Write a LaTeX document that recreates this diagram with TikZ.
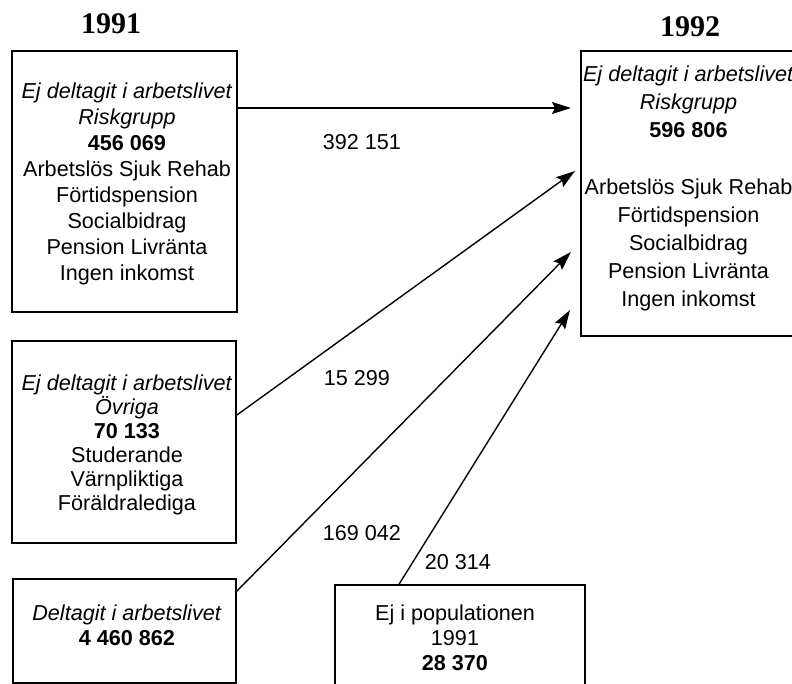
\documentclass[tikz,border=0pt]{standalone}
\usepackage{fontspec}
\setmainfont{Liberation Sans}
\newfontfamily\headfont{Liberation Serif}
\usetikzlibrary{arrows.meta}
\begin{document}
\begin{tikzpicture}[x=1pt,y=-1pt,
  box/.style={draw,line width=1.8pt,rectangle,inner sep=0pt},
  txt/.style={align=center,inner sep=0pt},
  lab/.style={font=\fontsize{21.6}{26}\selectfont,inner sep=0pt},
  flow/.style={line width=1.4pt,-{Stealth[length=19pt,width=12pt,inset=3pt]}},
  head/.style={font=\headfont\bfseries\fontsize{30}{36}\selectfont,inner sep=0pt}]
\useasboundingbox (0,0) rectangle (792,684);
\clip (0,0) rectangle (792,684);

% headings
\node[head] (h1) at (111,24) {1991};
\node[head] (h2) at (690,27) {1992};

% boxes
\node[box,minimum width=225pt,minimum height=261pt] (b1) at (124.5,181.5) {};
\node[box,minimum width=216pt,minimum height=285pt] (b2) at (689,193.5) {};
\node[box,minimum width=224pt,minimum height=202pt] (b3) at (124,442) {};
\node[box,minimum width=223pt,minimum height=104pt] (b4) at (124.5,631) {};
\node[box,minimum width=250pt,minimum height=105pt] (b5) at (460,637.5) {};

% box texts
\node[txt,font=\fontsize{21.6}{26}\selectfont] (t1) at (127,183.5)
 {\textit{Ej deltagit i arbetslivet}\\ \textit{Riskgrupp}\\ \textbf{456 069}\\
  Arbetslös Sjuk Rehab\\ Förtidspension\\ Socialbidrag\\ Pension Livränta\\ Ingen inkomst};
\node[txt,font=\fontsize{21.6}{28.1}\selectfont] (t2) at (688.5,188.5)
 {\textit{Ej deltagit i arbetslivet}\\ \textit{Riskgrupp}\\ \textbf{596 806}\\[28.1pt]
  Arbetslös Sjuk Rehab\\ Förtidspension\\ Socialbidrag\\ Pension Livränta\\ Ingen inkomst};
\node[txt,font=\fontsize{21.6}{24}\selectfont] (t3) at (127,445)
 {\textit{Ej deltagit i arbetslivet}\\ \textit{Övriga}\\ \textbf{70 133}\\
  Studerande\\ Värnpliktiga\\ Föräldralediga};
\node[txt,font=\fontsize{21.6}{25}\selectfont] (t4) at (127,625)
 {\textit{Deltagit i arbetslivet}\\ \textbf{4 460 862}};
\node[txt,font=\fontsize{21.6}{25}\selectfont] (t5) at (455,638)
 {Ej i populationen\\ 1991\\ \textbf{28 370}};

% arrow tips (free ends)
\coordinate (e1) at (571,108);
\coordinate (e2) at (575,171);
\coordinate (e3) at (571,252);
\coordinate (e4) at (570,310);

% connectors
\draw[flow] (b1.east |- e1) -- (e1);
\draw[flow] ([yshift=27pt]b3.east) -- (e2);
\draw[flow] ([yshift=-13pt]b4.north east) -- (e3);
\draw[flow] ([xshift=65pt]b5.north west) -- (e4);

% connector labels
\node[lab] (l1) at (362,142) {392 151};
\node[lab] (l2) at (357,378) {15 299};
\node[lab] (l3) at (362,533) {169 042};
\node[lab] (l4) at (458,562) {20 314};
\end{tikzpicture}
\end{document}
